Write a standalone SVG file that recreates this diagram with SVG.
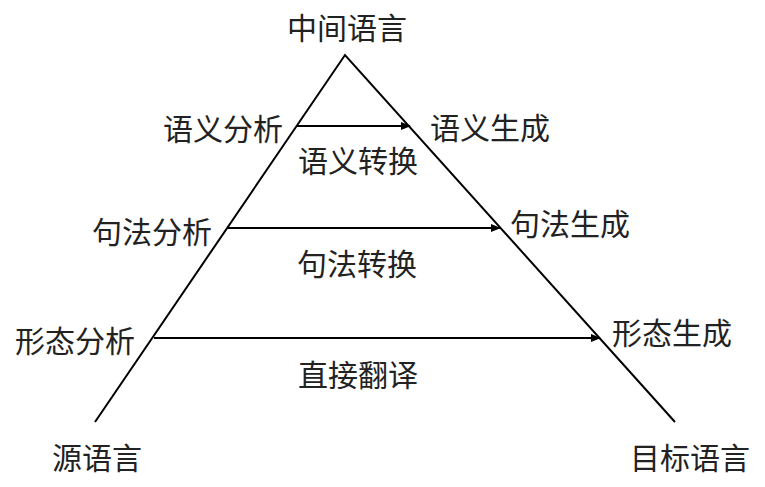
<svg xmlns="http://www.w3.org/2000/svg" width="765" height="487" viewBox="0 0 765 487">
<defs>
<style>
.t{font-family:"Noto Sans CJK SC","Noto Sans",sans-serif;font-size:30px;fill:#222}
.e{stroke:#000;stroke-width:2;fill:none}
</style>
<marker id="ah" markerWidth="10" markerHeight="8" refX="9" refY="4" orient="auto" markerUnits="userSpaceOnUse">
<path d="M0,0 L10,4 L0,8 Z" fill="#000"/>
</marker>
</defs>
<rect width="765" height="487" fill="#fff"/>
<g id="triangle">
<polyline class="e" points="95,422 345,55 675,422"/>
</g>
<g id="connectors">
<line class="e" x1="297" y1="126" x2="410" y2="126" marker-end="url(#ah)"/>
<line class="e" x1="228" y1="228" x2="500" y2="228" marker-end="url(#ah)"/>
<line class="e" x1="154" y1="338" x2="600" y2="338" marker-end="url(#ah)"/>
</g>
<g id="intermediate"><text class="t" x="287" y="39">中间语言</text></g>
<g id="semantic-analysis"><text class="t" x="163" y="140">语义分析</text></g>
<g id="semantic-generation"><text class="t" x="430" y="139">语义生成</text></g>
<g id="semantic-transfer"><text class="t" x="298" y="172">语义转换</text></g>
<g id="syntax-analysis"><text class="t" x="92" y="243">句法分析</text></g>
<g id="syntax-generation"><text class="t" x="510" y="235">句法生成</text></g>
<g id="syntax-transfer"><text class="t" x="297" y="275">句法转换</text></g>
<g id="morph-analysis"><text class="t" x="15" y="352">形态分析</text></g>
<g id="morph-generation"><text class="t" x="612" y="344">形态生成</text></g>
<g id="direct"><text class="t" x="298" y="386">直接翻译</text></g>
<g id="source"><text class="t" x="52" y="469">源语言</text></g>
<g id="target"><text class="t" x="630" y="469">目标语言</text></g>
</svg>
